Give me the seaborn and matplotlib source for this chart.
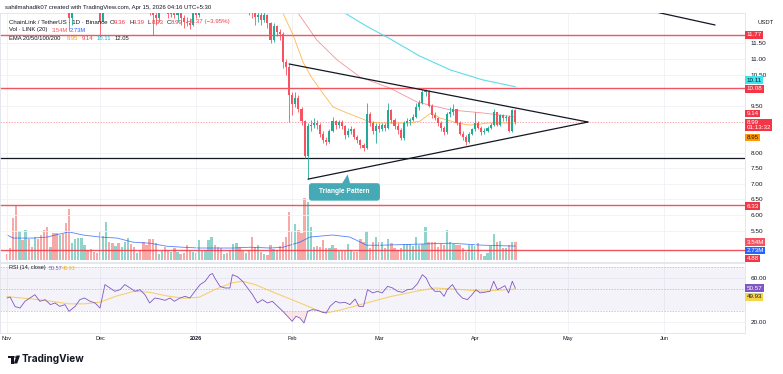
import numpy as np
import pandas as pd
import matplotlib
matplotlib.use("Agg")
import matplotlib.pyplot as plt
import seaborn as sns
from matplotlib.patches import FancyBboxPatch, Polygon, Circle
from matplotlib.ticker import FormatStrFormatter
from matplotlib.transforms import Bbox, TransformedBbox

sns.set_theme(style="white")
plt.rcParams['font.family'] = ['Liberation Sans', 'DejaVu Sans']

# daily candles LINK/USDT, day 0 = 1 Nov 2025
first_open = 17.9
close = [17.5, 17.0, 16.3, 15.4, 15.8, 15.5, 16.2, 15.9, 15.5, 16.0,
         15.6, 15.2, 14.8, 14.4, 14.7, 14.3, 13.9, 14.1, 13.6, 13.1,
         12.3, 12.6, 13.0, 13.4, 13.6, 13.8, 13.6, 13.4, 13.3, 13.1,
         12.2, 13.6, 13.9, 13.6, 13.4, 13.7, 13.5, 13.7, 13.8, 14.0,
         13.7, 13.4, 13.5, 13.2, 12.9, 12.7, 12.6, 12.4, 12.3, 12.6,
         12.8, 12.6, 12.45, 12.6, 12.4, 12.5, 12.3, 12.2, 12.15, 12.1,
         12.5, 12.4, 13.0, 12.9, 13.5, 14.0, 14.2, 13.8, 13.6, 13.5,
         14.1, 13.9, 13.7, 14.0, 14.2, 13.6, 13.0, 13.1, 12.6, 12.5,
         12.35, 12.4, 12.25, 12.4, 12.15, 11.6, 12.05, 11.85, 11.8, 10.9,
         10.75, 9.85, 9.55, 9.75, 9.4, 9.0, 7.9, 8.85, 8.9, 8.95,
         8.9, 8.6, 8.4, 8.35, 8.7, 9.0, 8.9, 8.98, 8.85, 8.55,
         8.7, 8.75, 8.5, 8.4, 8.25, 8.15, 9.25, 8.95, 8.7, 8.85,
         8.75, 8.9, 8.8, 9.35, 9.05, 8.85, 8.72, 8.47, 8.95, 9.0,
         9.05, 9.15, 9.45, 9.6, 9.94, 9.97, 9.5, 9.2, 9.1, 8.95,
         8.8, 8.65, 9.25, 9.3, 9.4, 8.95, 8.6, 8.5, 8.35, 8.6,
         8.75, 8.95, 8.8, 8.65, 8.7, 8.78, 8.9, 9.3, 8.9, 9.2,
         9.1, 9.15, 8.7, 9.36, 8.99]
high = [18.1, 17.7, 17.1, 16.4, 16.1, 16.0, 16.5, 16.4, 16.0, 16.2,
        16.1, 15.7, 15.3, 14.9, 14.9, 14.8, 14.4, 14.3, 14.2, 13.7,
        13.2, 12.8, 13.2, 13.5, 13.8, 14.0, 13.9, 13.7, 13.5, 13.4,
        13.2, 13.7, 14.1, 14.0, 13.7, 13.9, 13.8, 13.9, 14.0, 14.2,
        14.1, 13.8, 13.7, 13.6, 13.3, 13.0, 12.9, 12.8, 12.6, 12.8,
        13.0, 12.9, 12.7, 12.8, 12.7, 12.7, 12.6, 12.4, 12.35, 12.3,
        12.6, 12.7, 13.1, 13.2, 13.6, 14.2, 14.4, 14.3, 13.9, 13.7,
        14.3, 14.2, 14.0, 14.2, 14.4, 14.3, 13.7, 13.3, 13.2, 12.8,
        12.6, 12.6, 12.5, 12.5, 12.45, 12.2, 12.15, 12.1, 11.95, 11.85,
        11.0, 10.85, 9.95, 9.95, 9.85, 9.45, 9.05, 8.95, 9.05, 9.1,
        9.05, 8.95, 8.7, 8.5, 8.75, 9.15, 9.05, 9.05, 9.05, 8.9,
        8.8, 8.85, 8.8, 8.55, 8.45, 8.3, 9.6, 9.3, 9.0, 8.95,
        8.95, 8.95, 8.95, 9.6, 9.4, 9.1, 8.95, 8.8, 9.0, 9.1,
        9.1, 9.25, 9.6, 9.7, 10.0, 10.05, 10.0, 9.55, 9.3, 9.15,
        9.0, 8.85, 9.3, 9.45, 9.55, 9.4, 9.0, 8.7, 8.55, 8.65,
        8.8, 9.3, 9.0, 8.85, 8.8, 8.85, 8.95, 9.4, 9.3, 9.25,
        9.25, 9.2, 9.2, 9.39, 9.39]
low = [17.3, 16.8, 16.1, 15.1, 15.2, 15.3, 15.4, 15.7, 15.3, 15.4,
       15.4, 15.0, 14.6, 14.2, 14.3, 14.1, 13.7, 13.8, 13.4, 12.9,
       11.9, 12.1, 12.5, 12.9, 13.3, 13.5, 13.5, 13.3, 13.1, 12.9,
       11.7, 12.2, 13.5, 13.4, 13.2, 13.3, 13.3, 13.4, 13.6, 13.7,
       13.5, 13.2, 13.3, 13.0, 12.7, 12.5, 12.4, 11.77, 12.1, 12.2,
       12.5, 12.5, 12.3, 12.35, 12.3, 12.2, 12.1, 12.0, 12.05, 11.95,
       12.05, 12.3, 12.35, 12.7, 12.8, 13.4, 13.9, 13.6, 13.4, 13.3,
       13.4, 13.7, 13.5, 13.6, 13.9, 13.4, 12.8, 12.8, 12.4, 12.3,
       12.1, 12.2, 12.1, 12.2, 12.0, 11.5, 11.55, 11.75, 11.6, 10.7,
       10.5, 8.98, 9.2, 9.45, 9.3, 8.9, 7.83, 7.15, 8.7, 8.8,
       8.75, 8.5, 8.3, 8.25, 8.3, 8.65, 8.75, 8.8, 8.75, 8.45,
       8.5, 8.6, 8.45, 8.3, 8.15, 8.05, 8.1, 8.85, 8.6, 8.3,
       8.65, 8.7, 8.7, 8.75, 8.95, 8.75, 8.6, 8.4, 8.4, 8.85,
       8.9, 9.0, 9.1, 9.35, 9.55, 9.8, 9.45, 9.1, 9.05, 8.85,
       8.7, 8.55, 8.6, 9.15, 9.2, 8.9, 8.55, 8.4, 8.24, 8.3,
       8.55, 8.7, 8.75, 8.55, 8.6, 8.65, 8.75, 8.85, 8.85, 8.85,
       9.0, 9.0, 8.65, 8.65, 8.93]
volume = [1.1, 2.3, 8.2, 10.5, 5.7, 3.9, 5.9, 4.1, 2.6, 4.6,
          4.2, 4.9, 5.9, 6.4, 2.6, 5.2, 5.2, 4.9, 5.1, 7.2,
          10.0, 3.3, 4.2, 4.4, 4.4, 2.9, 2.0, 2.1, 1.6, 1.3,
          5.4, 4.8, 7.5, 3.6, 3.3, 2.8, 3.3, 2.6, 3.6, 4.4,
          3.1, 2.6, 1.3, 2.0, 3.6, 2.9, 4.2, 4.2, 3.3, 1.1,
          1.8, 2.6, 2.0, 1.5, 2.4, 1.6, 1.1, 1.3, 2.9, 1.8,
          1.6, 1.3, 3.9, 1.8, 2.0, 3.9, 4.6, 2.9, 2.6, 2.3,
          1.1, 1.3, 2.0, 3.1, 3.3, 2.6, 1.8, 1.3, 2.0, 4.6,
          2.5, 2.9, 1.6, 1.1, 1.0, 2.9, 2.2, 2.0, 2.8, 3.6,
          4.6, 9.5, 5.6, 7.0, 5.9, 5.2, 12.1, 11.3, 6.5, 2.6,
          2.8, 2.6, 3.9, 2.3, 2.4, 2.9, 2.3, 1.8, 1.8, 1.8,
          3.1, 2.0, 1.6, 1.6, 4.2, 3.6, 5.6, 2.3, 3.6, 4.6,
          3.6, 3.5, 2.3, 4.1, 3.3, 2.4, 2.0, 2.3, 3.1, 3.1,
          3.1, 2.7, 4.6, 2.9, 3.1, 6.4, 3.6, 3.6, 3.6, 2.6,
          3.1, 3.0, 5.9, 3.6, 3.1, 2.9, 2.9, 2.3, 1.6, 2.9,
          2.9, 2.8, 3.3, 1.1, 0.8, 1.3, 2.8, 5.0, 3.6, 3.7,
          2.4, 2.4, 2.9, 3.6, 3.54]

# indicator lines (day, value)
ema20_days = [85, 89, 92.3, 95.5, 98, 101.6, 105.2, 109.7, 113.9, 117, 120.3, 124.5, 130, 133.2, 136.8, 139.7, 145.2, 149.4, 155.8, 164]
ema20_vals = [12.9, 12.47, 11.77, 10.9, 10.45, 9.94, 9.46, 9.27, 9.11, 8.98, 8.95, 8.95, 8.95, 9.01, 9.27, 9.11, 8.95, 8.88, 8.95, 8.95]
ema50_days = [90, 93.9, 100, 106.5, 113.9, 123.5, 126.8, 132.3, 142.9, 153.5, 164]
ema50_vals = [12.9, 12.47, 11.6, 10.97, 10.42, 10.07, 9.9, 9.62, 9.37, 9.27, 9.14]
ema100_days = [105, 109, 116, 123.5, 133, 143, 153.5, 164]
ema100_vals = [12.7, 12.47, 12.05, 11.65, 11.1, 10.65, 10.33, 10.11]
volma_days = [0, 2, 8.4, 13, 17, 20, 24.5, 30, 35.5, 40.6, 46, 51.6, 56.8, 62, 67.7, 73, 78.4, 85, 89, 94.5, 97.7, 105, 110.6, 116, 121, 132, 143, 153.5, 164]
volma_vals = [4.9, 4.3, 4.3, 4.5, 5.1, 5.5, 4.9, 4.5, 4.3, 3.5, 3.3, 2.7, 2.5, 2.35, 2.35, 2.35, 2.5, 2.35, 2.5, 3.5, 4.5, 4.9, 4.5, 2.9, 2.9, 3.1, 3.3, 2.9, 2.73]
rsi_days = [0, 1, 2.6, 4.2, 5.8, 6.6, 9, 10.6, 12.3, 14, 15.5, 17, 18.7, 20, 22, 23.5, 25, 26.8, 28.4, 30,
            31.6, 33.2, 34.8, 36.5, 38, 39.7, 41.3, 42.9, 44.5, 46, 47.7, 49.4, 51, 52.6, 54, 55.8, 57.4, 59, 60.6, 62.3,
            63.9, 65.5, 66.3, 67, 68.7, 70.3, 71.9, 72.7, 74.4, 76, 77.6, 79.2, 80.8, 82.4, 84, 85.6, 87.3, 89, 90.5, 92,
            93.2, 94.5, 95.8, 97, 98.5, 100.2, 101.8, 103, 104.2, 106, 107.4, 109, 110.6, 112.3, 113.5, 115, 116.3, 118, 119.5, 121,
            122.8, 124.4, 126, 127.6, 129.2, 130.8, 132.4, 134, 135.2, 136.5, 138, 139.7, 141, 142, 143.7, 145.3, 146.9, 148.5, 150, 151.3,
            152.6, 154, 155.8, 157, 158.2, 159.3, 160.6, 161.8, 163, 164]
rsi_vals = [41.8, 42.7, 34, 32.7, 38.8, 40.3, 44.8, 38.8, 40.3, 35.8, 37.3, 34.2, 35.8, 29.7, 34.2, 40.3, 41.8, 38.8, 37.3, 32.7,
            54, 50.9, 47.9, 49.4, 54, 50.9, 47.9, 49.4, 44.8, 37.3, 41.8, 40.9, 39.7, 41.8, 38.8, 41.8, 43.3, 41.8, 47.9, 54,
            57, 63, 64, 60, 52.4, 50.9, 50.9, 63, 61, 57, 50.9, 44.8, 37.3, 40.3, 37.3, 38.8, 34.2, 29.7, 25.2, 20.6,
            25.2, 23.6, 19.1, 29.7, 31.2, 30.6, 28.8, 28.2, 34.2, 38.8, 37.3, 37.9, 35.8, 40.9, 34.2, 34.2, 49.4, 46.4, 47.9, 46.4,
            52.4, 50.9, 47.9, 47, 49.4, 50, 54.8, 63, 60, 52.4, 47.9, 47.9, 43.3, 49.4, 54, 46.4, 41.8, 40.3, 44.8, 49.4,
            46.4, 47, 47.9, 57, 49.4, 50.9, 53, 46.4, 57, 50.57]
rsima_days = [0, 8, 15, 20, 25, 30, 35, 41, 46, 51, 57, 62, 67, 72.5, 76, 80, 86.5, 94.5, 101, 103, 108, 116, 124, 132, 138, 147, 153, 158, 164]
rsima_vals = [43, 41, 38.5, 36.5, 36.5, 38, 43.3, 47.9, 47, 44, 41.5, 42.5, 49.4, 55.5, 57, 54, 46.4, 37.3, 29.7, 28.2, 31.2, 37.3, 43.3, 47.9, 50.9, 49.4, 47.9, 48.8, 49.93]

month_days = [0, 30, 61, 92, 120, 151, 181, 212]
month_labels = ["Nov", "Dec", "2026", "Feb", "Mar", "Apr", "May", "Jun"]
price_ticks = [5.5, 6.0, 6.5, 7.0, 7.5, 8.0, 9.5, 10.5, 11.0, 11.5]
red_levels = [11.77, 10.08, 6.33, 4.88]
support_level = 7.83
upper_tl = ([91, 187.4], [10.84, 8.98])
lower_tl = ([97.1, 187.4], [7.15, 8.98])
far_tl = ([205, 228.4], [12.6, 12.09])

UP, DN = '#22AB94', '#F7525F'
W, H = 783, 374


def rect(x0, y0, x1, y1):
    return [x0 / W, 1 - y1 / H, (x1 - x0) / W, (y1 - y0) / H]


df = pd.DataFrame({'day': np.arange(len(close)), 'close': close, 'high': high,
                   'low': low, 'volume': volume})
df['open'] = [first_open] + close[:-1]
df['up'] = df['close'] >= df['open']

fig = plt.figure(figsize=(W / 100, H / 100), dpi=100)

# ---------- price panel ----------
ax = fig.add_axes(rect(0, 13, 745, 262))
vax = ax.twinx()
ax.set_zorder(vax.get_zorder() + 1)
ax.patch.set_visible(False)
xlim = (-7 / 3.1, 738 / 3.1)
ax.set_xlim(*xlim)
ax.set_ylim(4.494, 12.474)

vax.set_ylim(-0.39, 48.4)
vax.bar(df['day'], df['volume'], width=0.72,
        color=np.where(df['up'], '#8FD3CB', '#F7A9A7'), linewidth=0)
sns.lineplot(x=volma_days, y=volma_vals, ax=vax, color='#2962FF', lw=0.6, alpha=0.8)
vax.set_yticks([])
vax.set_ylabel('')
for s in vax.spines.values():
    s.set_visible(False)

ax.set_xticks(month_days)
ax.set_yticks(price_ticks)
ax.yaxis.tick_right()
ax.yaxis.set_major_formatter(FormatStrFormatter('%.2f'))
ax.tick_params(axis='x', length=0, labelbottom=False)
ax.tick_params(axis='y', length=0, pad=4, labelsize=4.6, labelcolor='#131722')
ax.grid(True, color='#F0F1F5', lw=0.6)
for s in ax.spines.values():
    s.set_color('#E0E3EB')
    s.set_linewidth(0.6)

for lvl in red_levels:
    ax.axhline(lvl, color='#F23645', lw=1.0, alpha=0.85, zorder=2)
ax.axhline(support_level, color='#131722', lw=0.9, zorder=2)
ax.axhline(close[-1], color='#F23645', lw=0.5, ls=(0, (2, 2)), alpha=0.6, zorder=2)

sns.lineplot(x=ema20_days, y=ema20_vals, ax=ax, color='#FF9800', lw=0.6, alpha=0.7)
sns.lineplot(x=ema50_days, y=ema50_vals, ax=ax, color='#F23645', lw=0.6, alpha=0.55)
sns.lineplot(x=ema100_days, y=ema100_vals, ax=ax, color='#4DD8E6', lw=0.8, alpha=0.9)

colors = np.where(df['up'], UP, DN)
ax.vlines(df['day'], df['low'], df['high'], colors=colors, lw=0.6, zorder=3)
body_lo = np.minimum(df['open'], df['close'])
body_h = np.maximum(np.abs(df['close'] - df['open']), 0.02)
ax.bar(df['day'], body_h, bottom=body_lo, width=0.7, color=colors, linewidth=0, zorder=3)

for xs, ys in (upper_tl, lower_tl, far_tl):
    ax.plot(xs, ys, color='#131722', lw=0.9, zorder=4)

# triangle pattern callout
ax.add_patch(FancyBboxPatch((97.4, 6.46), 22.9, 0.56, boxstyle='round,pad=0,rounding_size=0.9',
                            mutation_aspect=0.1, fc='#45AAB6', ec='none', zorder=5))
ax.add_patch(Polygon([(108.0, 7.0), (110.7, 7.0), (109.9, 7.30)], closed=True,
                     fc='#45AAB6', ec='none', zorder=5))
ax.text(108.85, 6.74, 'Triangle Pattern', color='white', fontsize=4.8, fontweight='bold',
        ha='center', va='center', zorder=6)
ax.set_xlabel('')
ax.set_ylabel('')

# ---------- RSI panel ----------
rax = fig.add_axes(rect(0, 263, 745, 333))
rax.set_xlim(*xlim)
rax.set_ylim(10, 73.6)
rax.axhspan(30, 70, color='#7E57C2', alpha=0.07, lw=0)
for lvl in (70, 50, 30):
    rax.axhline(lvl, color='#9598A1', lw=0.5, ls=(0, (2, 2)), alpha=0.7)
rsi_arr = np.array(rsi_vals)
rax.fill_between(rsi_days, rsi_arr, 30, where=rsi_arr < 30, color='#F23645', alpha=0.12,
                 lw=0, interpolate=True)
sns.lineplot(x=rsima_days, y=rsima_vals, ax=rax, color='#F5C542', lw=0.8, alpha=0.75)
sns.lineplot(x=rsi_days, y=rsi_vals, ax=rax, color='#7E57C2', lw=0.6)
rax.set_xticks(month_days)
rax.set_xticklabels(month_labels)
rax.set_yticks([20, 60])
rax.yaxis.tick_right()
rax.yaxis.set_major_formatter(FormatStrFormatter('%.2f'))
rax.tick_params(axis='x', length=0, pad=2.5, labelsize=4.0, labelcolor='#131722')
rax.tick_params(axis='y', length=0, pad=4, labelsize=4.6, labelcolor='#131722')
rax.get_xticklabels()[2].set_fontweight('bold')
rax.grid(True, color='#F0F1F5', lw=0.6)
rax.set_xlabel('')
rax.set_ylabel('')
for s in rax.spines.values():
    s.set_color('#E0E3EB')
    s.set_linewidth(0.6)


# ---------- texts ----------
def ftext(x, y, s, color='#131722', size=4.4, **kw):
    return fig.text(x / W, 1 - y / H, s, color=color, fontsize=size, va='center', ha='left', **kw)


def tag(y, s, bg, fg='white', x=746.5):
    return fig.text(x / W, 1 - y / H, s, color=fg, fontsize=4.5, va='center', ha='left',
                    linespacing=0.95, bbox=dict(boxstyle='square,pad=0.2', fc=bg, ec='none'),
                    zorder=10)


red = '#F23645'
ftext(5, 7, 'sahilmahadik07 created with TradingView.com, Apr 15, 2026 04:16 UTC+5:30', size=4.35)
ftext(9, 22, 'ChainLink / TetherUS · 1D · Binance', size=4.4)
for lx, letter, val in ((110, 'O', '9.36'), (129, 'H', '9.39'), (148, 'L', '8.93'), (167, 'C', '8.99')):
    ftext(lx, 22, letter, size=4.4)
    ftext(lx + 3.6, 22, val, color=red, size=4.4)
ftext(187, 22, '−0.37 (−3.95%)', color=red, size=4.4)
ftext(9, 30, 'Vol · LINK (20)', size=4.2)
ftext(52, 30, '3.54M', color=DN, size=4.2)
ftext(70, 30, '2.73M', color='#2962FF', size=4.2)
ftext(9, 38, 'EMA 20/50/100/200', size=4.2)
ftext(67, 38, '8.95', color='#FF9800', size=4.2)
ftext(82, 38, '9.14', color=red, size=4.2)
ftext(97, 38, '10.11', color='#00BCD4', size=4.2)
ftext(115, 38, '12.05', size=4.2)
ftext(9, 268, 'RSI (14, close)', size=4.0)
ftext(49, 268, '50.57', color='#7E57C2', size=4.0)
ftext(62, 268, '49.93', color='#E8B830', size=4.0)
ftext(757, 22, 'USDT', color='#131722', size=4.2)

tag(35, '11.77', red)
tag(80, '10.11', '#3FE3EE', fg='#131722')
tag(89, '10.08', red)
tag(113.5, '9.14', red)
tag(125, '8.99\n01:13:32', red)
tag(137.5, '8.95', '#FF9800', fg='#131722')
tag(206, '6.33', red)
tag(242, '3.54M', DN)
tag(250.5, '2.73M', '#2962FF')
t488 = tag(259, '4.88', red)
t488.set_clip_box(TransformedBbox(Bbox([[745 / W, 1 - 262 / H], [1, 1 - 13 / H]]), fig.transFigure))
t488.set_clip_on(True)
tag(288, '50.57', '#7E57C2')
tag(297, '49.93', '#F5D547', fg='#131722')

# TradingView logo + wordmark
logo_t = [(8, 355.5), (13.5, 355.5), (13.5, 363.5), (10.8, 363.5), (10.8, 358.3), (8, 358.3)]
logo_s = [(16.5, 355.5), (20, 355.5), (17.2, 363.5), (13.8, 363.5)]
for poly in (logo_t, logo_s):
    fig.patches.append(Polygon([(px / W, 1 - py / H) for px, py in poly], closed=True,
                               fc='#131722', ec='none', transform=fig.transFigure))
fig.patches.append(Circle((15.1 / W, 1 - 357 / H), 1.25 / W, fc='#131722', ec='none',
                          transform=fig.transFigure))
fig.text(22 / W, 1 - 359.5 / H, 'TradingView', fontsize=7.2, fontweight='bold',
         color='#131722', va='center', ha='left', family=['Inter', 'DejaVu Sans'])

fig.savefig('out.png', dpi=100, facecolor='white')
